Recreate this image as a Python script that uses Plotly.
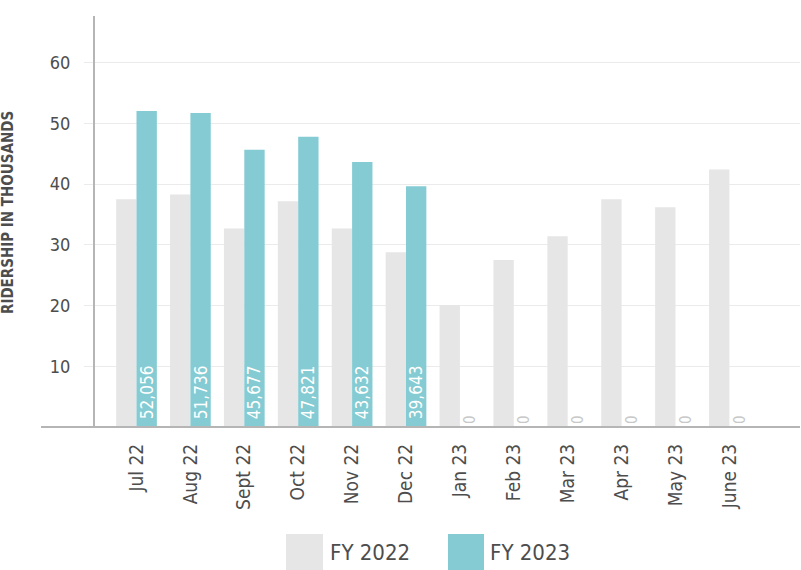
import plotly.graph_objects as go

# --- data -------------------------------------------------------------
months = ["Jul 22", "Aug 22", "Sept 22", "Oct 22", "Nov 22", "Dec 22",
          "Jan 23", "Feb 23", "Mar 23", "Apr 23", "May 23", "June 23"]
fy2022 = [37.5, 38.3, 32.7, 37.2, 32.7, 28.8, 20.1, 27.5, 31.4, 37.5, 36.2, 42.4]
fy2023 = [52.056, 51.736, 45.677, 47.821, 43.632, 39.643, 0, 0, 0, 0, 0, 0]
y_ticks = [10, 20, 30, 40, 50, 60]

GREY = "#e6e6e6"
TEAL = "#84cbd3"
INK = "#4d4d4d"
AXIS = "#b5b5b5"
FONT = "DejaVu Sans Condensed, Liberation Sans Narrow, Arial Narrow, sans-serif"

W, H = 801, 570
L, R, T, B = 95, 1, 16, 143


def px(x):
    """Pixel x -> paper x."""
    return (x - L) / (W - L - R)


def py(y):
    """Pixel y -> paper y."""
    return (H - B - y) / (H - T - B)


# leading nbsp lifts the rotated labels a little off the baseline
labels = [f"\u00a0{v * 1000:,.0f}" if v > 0 else "0" for v in fy2023]
positions = ["inside" if v > 0 else "outside" for v in fy2023]

fig = go.Figure()
fig.add_trace(go.Bar(
    x=months, y=fy2022, name="FY 2022",
    marker=dict(color=GREY, line=dict(width=0)),
))
fig.add_trace(go.Bar(
    x=months, y=fy2023, name="FY 2023",
    marker=dict(color=TEAL, line=dict(width=0)),
    text=labels, textposition=positions, textangle=-90,
    insidetextanchor="start", constraintext="none", cliponaxis=False,
    insidetextfont=dict(family=FONT, size=17, color="white"),
    outsidetextfont=dict(family=FONT, size=15, color="#c8c8c8"),
))

# legend drawn by hand to get the big square swatches
shapes = [
    dict(type="line", xref="paper", yref="paper", x0=px(41), x1=1, y0=0, y1=0,
         line=dict(color=AXIS, width=2)),
    dict(type="rect", xref="paper", yref="paper", x0=px(286), x1=px(323),
         y0=py(534), y1=py(572), fillcolor=GREY, line=dict(width=0)),
    dict(type="rect", xref="paper", yref="paper", x0=px(448), x1=px(484),
         y0=py(534), y1=py(572), fillcolor=TEAL, line=dict(width=0)),
]
annotations = [
    dict(text="FY 2022", x=px(328), y=py(552), xref="paper", yref="paper",
         xanchor="left", yanchor="middle", showarrow=False,
         font=dict(family=FONT, size=22, color=INK)),
    dict(text="FY 2023", x=px(488), y=py(552), xref="paper", yref="paper",
         xanchor="left", yanchor="middle", showarrow=False,
         font=dict(family=FONT, size=22, color=INK)),
    dict(text="<b>RIDERSHIP IN THOUSANDS</b>", x=px(8), y=py(213),
         xref="paper", yref="paper", textangle=-90, showarrow=False,
         xanchor="center", yanchor="middle",
         font=dict(family=FONT, size=15, color=INK)),
]

fig.update_layout(
    width=W, height=H,
    margin=dict(l=L, r=R, t=T, b=B),
    paper_bgcolor="white", plot_bgcolor="white",
    barmode="group", bargap=0.245, bargroupgap=0,
    showlegend=False,
    font=dict(family=FONT, color=INK),
    xaxis=dict(
        range=[-0.77, 12.31], showgrid=False, zeroline=False,
        showline=False, tickangle=-90, ticks="",
        tickfont=dict(family=FONT, size=19, color=INK),
        ticklabelstandoff=12,
    ),
    yaxis=dict(
        range=[0, 67.7], tickvals=y_ticks,
        showgrid=True, gridcolor="#ebebeb", gridwidth=1,
        zeroline=False, showline=True, linecolor=AXIS, linewidth=2,
        ticks="outside", ticklen=9, tickcolor="#ebebeb",
        tickfont=dict(family=FONT, size=18, color=INK),
        ticklabelstandoff=10,
    ),
    shapes=shapes,
    annotations=annotations,
)

# drop the browser's default body margin so the chart sits at the page corner
fig.write_html(
    "out.html",
    config={"displayModeBar": False},
    post_script="document.body.style.margin='0';",
)
